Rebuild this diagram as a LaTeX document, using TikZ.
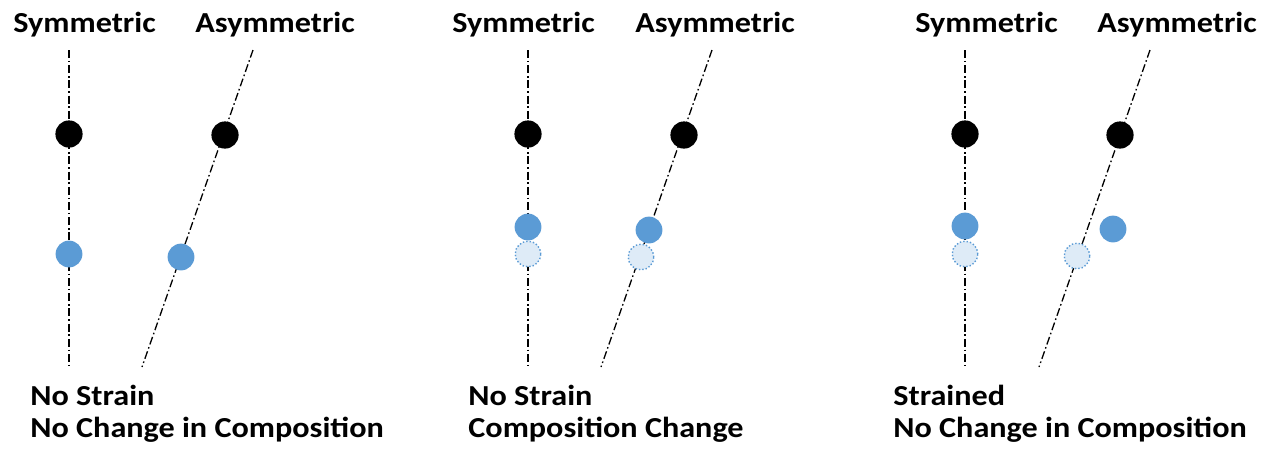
\documentclass[tikz,border=0pt]{standalone}
\usepackage{fontspec}
\setmainfont{Carlito}[FakeStretch=1.11]
\usepackage{xcolor}
\usepackage{tikz}
\usetikzlibrary{positioning}

\definecolor{atomblue}{HTML}{5B9BD5}
\definecolor{atompale}{HTML}{DEEBF7}

\begin{document}
\begin{tikzpicture}[
  x=0.5pt, y=-0.5pt,
  font=\fontsize{14.5}{16}\selectfont\bfseries,
  axis/.style  = {line width=0.65pt, dash pattern=on 4pt off 1.4pt on 0.8pt off 1.4pt},
  fixed/.style = {circle, fill=black, inner sep=0pt, minimum size=13.6pt},
  solute/.style= {circle, fill=atomblue, inner sep=0pt, minimum size=13.4pt},
  ghost/.style = {circle, fill=atompale, draw=atomblue, densely dotted,
                  line width=0.7pt, inner sep=0pt, minimum size=12.8pt},
  lbl/.style   = {anchor=base west, inner sep=0pt}
]
\useasboundingbox (0,0) rectangle (1268,452);

% ---- panel 1: no strain, no change in composition -------------------------
\node[lbl] (a-symtxt)  at (13,32)  {Symmetric};
\node[lbl] (a-asymtxt) at (195,32) {Asymmetric};

\coordinate (a-sym-top)  at (69,50);
\coordinate (a-sym-bot)  at (69,367);
\coordinate (a-asym-top) at (253,50);
\coordinate (a-asym-bot) at (142,367);
\draw[axis] (a-sym-top) -- (a-sym-bot);
\draw[axis] (a-asym-top) -- (a-asym-bot);

\node[fixed]  (a-sym-fix)  at (69,134)  {};
\node[fixed]  (a-asym-fix) at (225,135) {};
\node[solute] (a-sym-sol)  at (69,254)  {};
\node[solute] (a-asym-sol) at (181,257) {};

\node[lbl] (a-note1) at (30,405) {No Strain};
\node[lbl] (a-note2) at (30,437) {No Change in Composition};

% ---- panel 2: no strain, composition change -------------------------------
\node[lbl] (b-symtxt)  at (452,32) {Symmetric};
\node[lbl] (b-asymtxt) at (635,32) {Asymmetric};

\coordinate (b-sym-top)  at (528,50);
\coordinate (b-sym-bot)  at (528,367);
\coordinate (b-asym-top) at (712,50);
\coordinate (b-asym-bot) at (601,367);
\draw[axis] (b-sym-top) -- (b-sym-bot);
\draw[axis] (b-asym-top) -- (b-asym-bot);

\node[fixed]  (b-sym-fix)    at (528,134) {};
\node[fixed]  (b-asym-fix)   at (684,135) {};
\node[ghost]  (b-sym-ghost)  at (528,254) {};
\node[ghost]  (b-asym-ghost) at (641,257) {};
\node[solute] (b-sym-sol)    at (528,227) {};
\node[solute] (b-asym-sol)   at (649,230) {};

\node[lbl] (b-note1) at (468,405) {No Strain};
\node[lbl] (b-note2) at (468,437) {Composition Change};

% ---- panel 3: strained, no change in composition --------------------------
\node[lbl] (c-symtxt)  at (915,32)  {Symmetric};
\node[lbl] (c-asymtxt) at (1097,32) {Asymmetric};

\coordinate (c-sym-top)  at (965,50);
\coordinate (c-sym-bot)  at (965,367);
\coordinate (c-asym-top) at (1150,50);
\coordinate (c-asym-bot) at (1039,367);
\draw[axis] (c-sym-top) -- (c-sym-bot);
\draw[axis] (c-asym-top) -- (c-asym-bot);

\node[fixed]  (c-sym-fix)    at (965,134)  {};
\node[fixed]  (c-asym-fix)   at (1120,135) {};
\node[ghost]  (c-sym-ghost)  at (965,254)  {};
\node[ghost]  (c-asym-ghost) at (1077,256) {};
\node[solute] (c-sym-sol)    at (965,226)  {};
\node[solute] (c-asym-sol)   at (1113,229) {};

\node[lbl] (c-note1) at (893,405) {Strained};
\node[lbl] (c-note2) at (893,437) {No Change in Composition};

\end{tikzpicture}
\end{document}
